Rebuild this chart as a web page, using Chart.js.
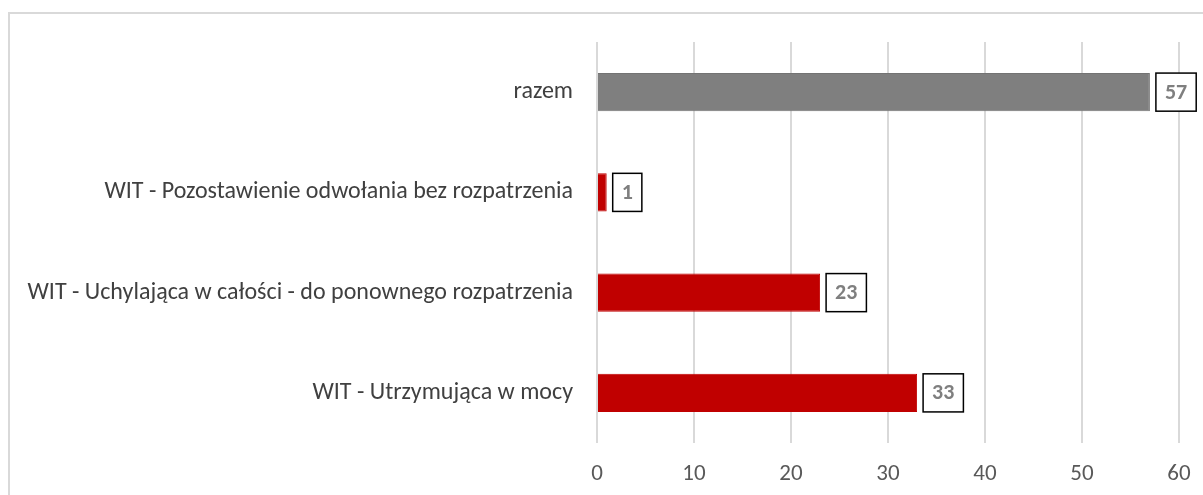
<!DOCTYPE html>
<html>
<head>
<meta charset="utf-8">
<script src="https://cdn.jsdelivr.net/npm/chart.js@4/dist/chart.umd.min.js"></script>
<style>
  html, body { margin: 0; padding: 0; background: #fff; overflow: hidden; }
  #frame { position: absolute; left: 8px; top: 12px; width: 1400px; height: 700px; border-left: 2px solid #d9d9d9; border-top: 2px solid #d9d9d9; }
  #wrap { position: absolute; left: 0; top: 0; width: 1203px; height: 495px; }
</style>
</head>
<body>
<div id="frame"></div>
<div id="wrap"><canvas id="c"></canvas></div>
<script>
const categories = [
  "razem",
  "WIT - Pozostawienie odwołania bez rozpatrzenia",
  "WIT - Uchylająca w całości - do ponownego rozpatrzenia",
  "WIT - Utrzymująca w mocy"
];
const values = [57, 1, 23, 33];
const barColors = ["#7f7f7f", "#c00000", "#c00000", "#c00000"];
const xTicks = [0, 10, 20, 30, 40, 50, 60];

const FONT = "Carlito, 'Liberation Sans', sans-serif";

const boxLabels = {
  id: 'boxLabels',
  afterDatasetsDraw(chart) {
    const ctx = chart.ctx;
    const meta = chart.getDatasetMeta(0);
    ctx.save();
    ctx.font = "bold 22px " + FONT;
    meta.data.forEach((bar, i) => {
      const txt = String(values[i]);
      const tw = ctx.measureText(txt).width;
      const h = bar.height;
      const w = tw + 18;
      const x = bar.x + 6;
      const y = bar.y - h / 2;
      ctx.fillStyle = "#ffffff";
      ctx.fillRect(x, y, w, h);
      ctx.strokeStyle = "#000000";
      ctx.lineWidth = 1.5;
      ctx.strokeRect(x, y, w, h);
      ctx.fillStyle = "#7f7f7f";
      ctx.textAlign = "center";
      ctx.textBaseline = "middle";
      ctx.fillText(txt, x + w / 2, bar.y + 1);
    });
    ctx.restore();
  }
};

new Chart(document.getElementById('c'), {
  type: 'bar',
  data: {
    labels: categories,
    datasets: [{
      data: values,
      backgroundColor: barColors,
      borderColor: barColors.map(c => c === "#7f7f7f" ? "#737373" : c),
      borderWidth: 1,
      categoryPercentage: 1,
      barPercentage: 0.38
    }]
  },
  options: {
    responsive: true,
    maintainAspectRatio: false,
    animation: false,
    indexAxis: 'y',
    layout: { padding: { top: 42, right: 24, left: 0, bottom: 0 } },
    plugins: { legend: { display: false }, tooltip: { enabled: false } },
    scales: {
      x: {
        min: 0, max: 60,
        afterBuildTicks: (s) => { s.ticks = xTicks.map(v => ({ value: v })); },
        afterFit: (s) => { s.height = 52; s.paddingLeft = 0; s.paddingRight = 0; },
        grid: { color: "#d9d9d9", lineWidth: 2, drawTicks: false },
        border: { display: false },
        ticks: { color: "#595959", font: { family: FONT, size: 23 }, padding: 17 }
      },
      y: {
        afterFit: (s) => { s.width = 597; },
        grid: { display: false },
        border: { display: false },
        ticks: { color: "#404040", font: { family: FONT, size: 24 }, padding: 16 }
      }
    }
  },
  plugins: [boxLabels]
});
</script>
</body>
</html>
